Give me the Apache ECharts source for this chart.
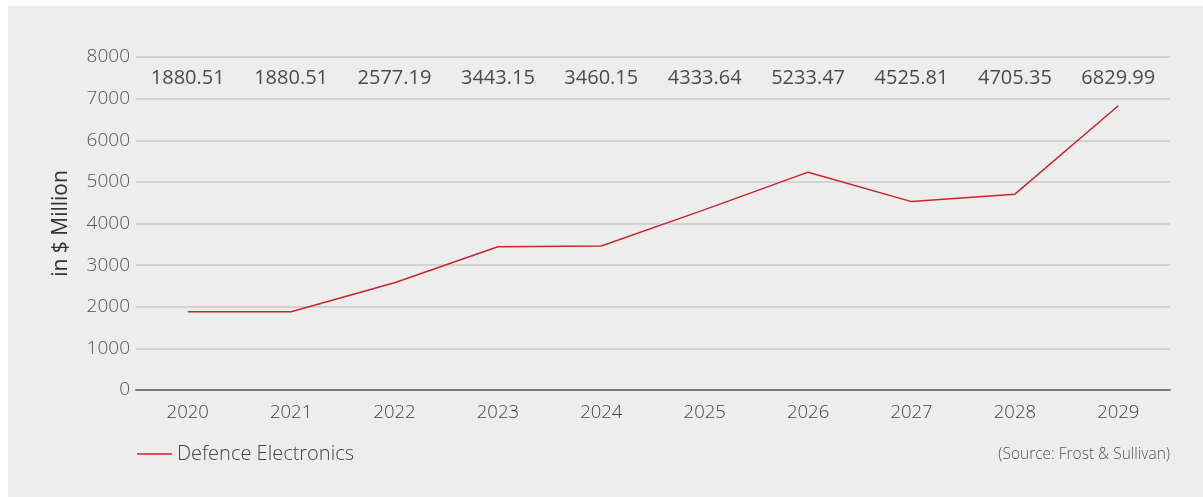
<!DOCTYPE html>
<html lang="en">
<head>
	<meta charset="UTF-8">
	<title>Defence Electronics</title>
	<script src="https://cdn.jsdelivr.net/npm/echarts@6/dist/echarts.min.js"></script>
	<style>
		html,body{margin:0;padding:0;background:#fff;}
		.panel{
			position:absolute;
			left:8px;top:6px;
			width:1195px;height:491px;
			background:#ededed;
		}
		#box{width:100%;height:100%;}
	</style>
</head>
<body>
<div class="panel"><div id="box"></div></div>
<script>
	let years=['2020','2021','2022','2023','2024','2025','2026','2027','2028','2029'];
	let values=[1880.51,1880.51,2577.19,3443.15,3460.15,4333.64,5233.47,4525.81,4705.35,6829.99];
	let yTicks=[0,1000,2000,3000,4000,5000,6000,7000,8000];
	let labelRow=7500; // labels sit in a row between 7000 and 8000

	let font='Open Sans';
	let charts=echarts.init(document.getElementById('box'));
	charts.setOption({
		backgroundColor:'transparent',
		animation:false,
		grid:{left:128,right:33,top:51,bottom:107},
		legend:{
			data:['Defence Electronics'],
			left:124,bottom:28,
			icon:'rect',itemWidth:35,itemHeight:1.5,itemGap:6,
			textStyle:{fontFamily:font,fontSize:20,color:'#444',fontWeight:300}
		},
		graphic:[{
			type:'text',right:33,bottom:34,
			style:{text:'(Source: Frost & Sullivan)',font:'300 15.5px "Open Sans"',fill:'#555'}
		}],
		xAxis:{
			type:'category',
			data:years,
			axisLine:{lineStyle:{color:'#777',width:2}},
			axisTick:{show:false},
			axisLabel:{fontFamily:font,fontSize:18.5,color:'#444',fontWeight:300,margin:13}
		},
		yAxis:{
			type:'value',
			min:yTicks[0],max:yTicks[yTicks.length-1],interval:1000,
			name:'in $ Million',nameLocation:'middle',nameGap:64,
			nameTextStyle:{fontFamily:font,fontSize:21,color:'#333'},
			axisLine:{show:false},
			axisTick:{show:false},
			axisLabel:{fontFamily:font,fontSize:19,color:'#555',fontWeight:300,margin:6,formatter:v=>String(v)},
			splitLine:{lineStyle:{color:'#c8c8c8',width:1.5}}
		},
		series:[
			{
				name:'Defence Electronics',
				type:'line',
				data:values,
				symbol:'none',
				lineStyle:{color:'#c8262a',width:1.5},
				itemStyle:{color:'#c8262a'}
			},
			{
				name:'labels',
				type:'scatter',
				data:values.map(()=>labelRow),
				symbolSize:0,
				silent:true,
				label:{
					show:true,position:'inside',
					formatter:p=>values[p.dataIndex].toFixed(2),
					fontFamily:font,fontSize:20,color:'#222'
				}
			}
		]
	});
</script>
</body>
</html>
